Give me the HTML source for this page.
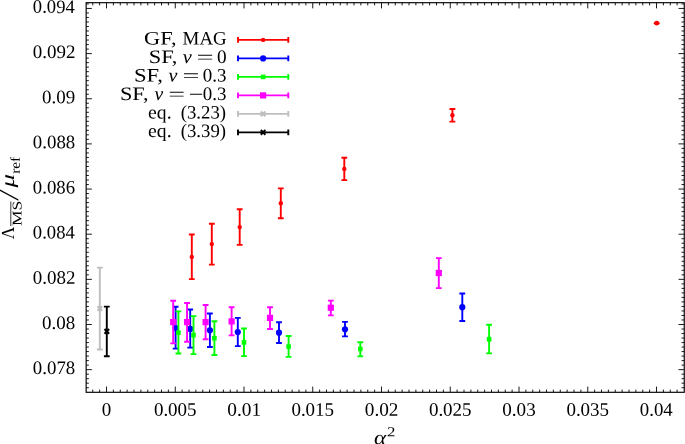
<!DOCTYPE html>
<html lang="en"><head><meta charset="utf-8"><title>plot</title>
<style>html,body{margin:0;padding:0;background:#fff;overflow:hidden}svg{display:block}text{font-family:"Liberation Serif","DejaVu Serif",serif;fill:#000}.i{font-style:italic}</style>
</head><body>
<svg width="685" height="444" viewBox="0 0 685 444">
<rect width="685" height="444" fill="#fff"/>
<path d="M92.75 392.30v-2.7M92.75 2.70v2.7M99.62 392.30v-2.7M99.62 2.70v2.7M106.50 392.30v-5.7M106.50 2.70v5.7M113.38 392.30v-2.7M113.38 2.70v2.7M120.25 392.30v-2.7M120.25 2.70v2.7M127.12 392.30v-2.7M127.12 2.70v2.7M134.00 392.30v-2.7M134.00 2.70v2.7M140.88 392.30v-2.7M140.88 2.70v2.7M147.75 392.30v-2.7M147.75 2.70v2.7M154.62 392.30v-2.7M154.62 2.70v2.7M161.50 392.30v-2.7M161.50 2.70v2.7M168.38 392.30v-2.7M168.38 2.70v2.7M175.25 392.30v-5.7M175.25 2.70v5.7M182.12 392.30v-2.7M182.12 2.70v2.7M189.00 392.30v-2.7M189.00 2.70v2.7M195.88 392.30v-2.7M195.88 2.70v2.7M202.75 392.30v-2.7M202.75 2.70v2.7M209.62 392.30v-2.7M209.62 2.70v2.7M216.50 392.30v-2.7M216.50 2.70v2.7M223.38 392.30v-2.7M223.38 2.70v2.7M230.25 392.30v-2.7M230.25 2.70v2.7M237.12 392.30v-2.7M237.12 2.70v2.7M244.00 392.30v-5.7M244.00 2.70v5.7M250.88 392.30v-2.7M250.88 2.70v2.7M257.75 392.30v-2.7M257.75 2.70v2.7M264.62 392.30v-2.7M264.62 2.70v2.7M271.50 392.30v-2.7M271.50 2.70v2.7M278.38 392.30v-2.7M278.38 2.70v2.7M285.25 392.30v-2.7M285.25 2.70v2.7M292.12 392.30v-2.7M292.12 2.70v2.7M299.00 392.30v-2.7M299.00 2.70v2.7M305.88 392.30v-2.7M305.88 2.70v2.7M312.75 392.30v-5.7M312.75 2.70v5.7M319.62 392.30v-2.7M319.62 2.70v2.7M326.50 392.30v-2.7M326.50 2.70v2.7M333.38 392.30v-2.7M333.38 2.70v2.7M340.25 392.30v-2.7M340.25 2.70v2.7M347.12 392.30v-2.7M347.12 2.70v2.7M354.00 392.30v-2.7M354.00 2.70v2.7M360.88 392.30v-2.7M360.88 2.70v2.7M367.75 392.30v-2.7M367.75 2.70v2.7M374.62 392.30v-2.7M374.62 2.70v2.7M381.50 392.30v-5.7M381.50 2.70v5.7M388.38 392.30v-2.7M388.38 2.70v2.7M395.25 392.30v-2.7M395.25 2.70v2.7M402.12 392.30v-2.7M402.12 2.70v2.7M409.00 392.30v-2.7M409.00 2.70v2.7M415.88 392.30v-2.7M415.88 2.70v2.7M422.75 392.30v-2.7M422.75 2.70v2.7M429.62 392.30v-2.7M429.62 2.70v2.7M436.50 392.30v-2.7M436.50 2.70v2.7M443.38 392.30v-2.7M443.38 2.70v2.7M450.25 392.30v-5.7M450.25 2.70v5.7M457.12 392.30v-2.7M457.12 2.70v2.7M464.00 392.30v-2.7M464.00 2.70v2.7M470.88 392.30v-2.7M470.88 2.70v2.7M477.75 392.30v-2.7M477.75 2.70v2.7M484.62 392.30v-2.7M484.62 2.70v2.7M491.50 392.30v-2.7M491.50 2.70v2.7M498.38 392.30v-2.7M498.38 2.70v2.7M505.25 392.30v-2.7M505.25 2.70v2.7M512.12 392.30v-2.7M512.12 2.70v2.7M519.00 392.30v-5.7M519.00 2.70v5.7M525.88 392.30v-2.7M525.88 2.70v2.7M532.75 392.30v-2.7M532.75 2.70v2.7M539.62 392.30v-2.7M539.62 2.70v2.7M546.50 392.30v-2.7M546.50 2.70v2.7M553.38 392.30v-2.7M553.38 2.70v2.7M560.25 392.30v-2.7M560.25 2.70v2.7M567.12 392.30v-2.7M567.12 2.70v2.7M574.00 392.30v-2.7M574.00 2.70v2.7M580.88 392.30v-2.7M580.88 2.70v2.7M587.75 392.30v-5.7M587.75 2.70v5.7M594.62 392.30v-2.7M594.62 2.70v2.7M601.50 392.30v-2.7M601.50 2.70v2.7M608.38 392.30v-2.7M608.38 2.70v2.7M615.25 392.30v-2.7M615.25 2.70v2.7M622.12 392.30v-2.7M622.12 2.70v2.7M629.00 392.30v-2.7M629.00 2.70v2.7M635.88 392.30v-2.7M635.88 2.70v2.7M642.75 392.30v-2.7M642.75 2.70v2.7M649.62 392.30v-2.7M649.62 2.70v2.7M656.50 392.30v-5.7M656.50 2.70v5.7M663.38 392.30v-2.7M663.38 2.70v2.7M670.25 392.30v-2.7M670.25 2.70v2.7M677.12 392.30v-2.7M677.12 2.70v2.7M86.15 387.71h2.7M684.25 387.71h-2.7M86.15 383.19h2.7M684.25 383.19h-2.7M86.15 378.68h2.7M684.25 378.68h-2.7M86.15 374.16h2.7M684.25 374.16h-2.7M86.15 369.65h5.7M684.25 369.65h-5.7M86.15 365.13h2.7M684.25 365.13h-2.7M86.15 360.62h2.7M684.25 360.62h-2.7M86.15 356.10h2.7M684.25 356.10h-2.7M86.15 351.59h2.7M684.25 351.59h-2.7M86.15 347.07h2.7M684.25 347.07h-2.7M86.15 342.56h2.7M684.25 342.56h-2.7M86.15 338.05h2.7M684.25 338.05h-2.7M86.15 333.53h2.7M684.25 333.53h-2.7M86.15 329.01h2.7M684.25 329.01h-2.7M86.15 324.50h5.7M684.25 324.50h-5.7M86.15 319.98h2.7M684.25 319.98h-2.7M86.15 315.47h2.7M684.25 315.47h-2.7M86.15 310.95h2.7M684.25 310.95h-2.7M86.15 306.44h2.7M684.25 306.44h-2.7M86.15 301.92h2.7M684.25 301.92h-2.7M86.15 297.41h2.7M684.25 297.41h-2.7M86.15 292.89h2.7M684.25 292.89h-2.7M86.15 288.38h2.7M684.25 288.38h-2.7M86.15 283.87h2.7M684.25 283.87h-2.7M86.15 279.35h5.7M684.25 279.35h-5.7M86.15 274.83h2.7M684.25 274.83h-2.7M86.15 270.32h2.7M684.25 270.32h-2.7M86.15 265.80h2.7M684.25 265.80h-2.7M86.15 261.29h2.7M684.25 261.29h-2.7M86.15 256.77h2.7M684.25 256.77h-2.7M86.15 252.26h2.7M684.25 252.26h-2.7M86.15 247.74h2.7M684.25 247.74h-2.7M86.15 243.23h2.7M684.25 243.23h-2.7M86.15 238.72h2.7M684.25 238.72h-2.7M86.15 234.20h5.7M684.25 234.20h-5.7M86.15 229.68h2.7M684.25 229.68h-2.7M86.15 225.17h2.7M684.25 225.17h-2.7M86.15 220.65h2.7M684.25 220.65h-2.7M86.15 216.14h2.7M684.25 216.14h-2.7M86.15 211.62h2.7M684.25 211.62h-2.7M86.15 207.11h2.7M684.25 207.11h-2.7M86.15 202.59h2.7M684.25 202.59h-2.7M86.15 198.08h2.7M684.25 198.08h-2.7M86.15 193.56h2.7M684.25 193.56h-2.7M86.15 189.05h5.7M684.25 189.05h-5.7M86.15 184.54h2.7M684.25 184.54h-2.7M86.15 180.02h2.7M684.25 180.02h-2.7M86.15 175.50h2.7M684.25 175.50h-2.7M86.15 170.99h2.7M684.25 170.99h-2.7M86.15 166.47h2.7M684.25 166.47h-2.7M86.15 161.96h2.7M684.25 161.96h-2.7M86.15 157.44h2.7M684.25 157.44h-2.7M86.15 152.93h2.7M684.25 152.93h-2.7M86.15 148.41h2.7M684.25 148.41h-2.7M86.15 143.90h5.7M684.25 143.90h-5.7M86.15 139.38h2.7M684.25 139.38h-2.7M86.15 134.87h2.7M684.25 134.87h-2.7M86.15 130.36h2.7M684.25 130.36h-2.7M86.15 125.84h2.7M684.25 125.84h-2.7M86.15 121.32h2.7M684.25 121.32h-2.7M86.15 116.81h2.7M684.25 116.81h-2.7M86.15 112.29h2.7M684.25 112.29h-2.7M86.15 107.78h2.7M684.25 107.78h-2.7M86.15 103.26h2.7M684.25 103.26h-2.7M86.15 98.75h5.7M684.25 98.75h-5.7M86.15 94.23h2.7M684.25 94.23h-2.7M86.15 89.72h2.7M684.25 89.72h-2.7M86.15 85.21h2.7M684.25 85.21h-2.7M86.15 80.69h2.7M684.25 80.69h-2.7M86.15 76.18h2.7M684.25 76.18h-2.7M86.15 71.66h2.7M684.25 71.66h-2.7M86.15 67.14h2.7M684.25 67.14h-2.7M86.15 62.63h2.7M684.25 62.63h-2.7M86.15 58.11h2.7M684.25 58.11h-2.7M86.15 53.60h5.7M684.25 53.60h-5.7M86.15 49.08h2.7M684.25 49.08h-2.7M86.15 44.57h2.7M684.25 44.57h-2.7M86.15 40.05h2.7M684.25 40.05h-2.7M86.15 35.54h2.7M684.25 35.54h-2.7M86.15 31.03h2.7M684.25 31.03h-2.7M86.15 26.51h2.7M684.25 26.51h-2.7M86.15 21.99h2.7M684.25 21.99h-2.7M86.15 17.48h2.7M684.25 17.48h-2.7M86.15 12.96h2.7M684.25 12.96h-2.7M86.15 8.45h5.7M684.25 8.45h-5.7M86.15 3.93h2.7M684.25 3.93h-2.7" stroke="#000" stroke-width="0.9" fill="none"/>
<rect x="86.15" y="2.7" width="598.1" height="389.6" fill="none" stroke="#000" stroke-width="1.15"/>
<text transform="rotate(0.05 32.9 374.0)" x="32.86" y="374.05" font-size="19.0" textLength="42.39" lengthAdjust="spacingAndGlyphs">0.078</text>
<text transform="rotate(0.05 42.1 328.9)" x="42.05" y="328.90" font-size="19.0" textLength="33.20" lengthAdjust="spacingAndGlyphs">0.08</text>
<text transform="rotate(0.05 32.9 283.7)" x="32.85" y="283.75" font-size="19.0" textLength="42.65" lengthAdjust="spacingAndGlyphs">0.082</text>
<text transform="rotate(0.05 32.9 238.6)" x="32.87" y="238.60" font-size="19.0" textLength="41.88" lengthAdjust="spacingAndGlyphs">0.084</text>
<text transform="rotate(0.05 32.9 193.5)" x="32.86" y="193.45" font-size="19.0" textLength="42.13" lengthAdjust="spacingAndGlyphs">0.086</text>
<text transform="rotate(0.05 32.9 148.3)" x="32.86" y="148.30" font-size="19.0" textLength="42.39" lengthAdjust="spacingAndGlyphs">0.088</text>
<text transform="rotate(0.05 42.1 103.2)" x="42.05" y="103.15" font-size="19.0" textLength="33.20" lengthAdjust="spacingAndGlyphs">0.09</text>
<text transform="rotate(0.05 32.9 58.0)" x="32.85" y="58.00" font-size="19.0" textLength="42.65" lengthAdjust="spacingAndGlyphs">0.092</text>
<text transform="rotate(0.05 32.9 12.8)" x="32.87" y="12.85" font-size="19.0" textLength="41.88" lengthAdjust="spacingAndGlyphs">0.094</text>
<text transform="rotate(0.05 101.8 415.8)" x="101.75" y="415.75" font-size="19.0" textLength="9.50" lengthAdjust="spacingAndGlyphs">0</text>
<text transform="rotate(0.05 153.9 415.8)" x="153.90" y="415.75" font-size="19.0" textLength="42.70" lengthAdjust="spacingAndGlyphs">0.005</text>
<text transform="rotate(0.05 227.3 415.8)" x="227.29" y="415.75" font-size="19.0" textLength="33.81" lengthAdjust="spacingAndGlyphs">0.01</text>
<text transform="rotate(0.05 291.4 415.8)" x="291.40" y="415.75" font-size="19.0" textLength="42.70" lengthAdjust="spacingAndGlyphs">0.015</text>
<text transform="rotate(0.05 364.8 415.8)" x="364.79" y="415.75" font-size="19.0" textLength="33.67" lengthAdjust="spacingAndGlyphs">0.02</text>
<text transform="rotate(0.05 428.9 415.8)" x="428.90" y="415.75" font-size="19.0" textLength="42.70" lengthAdjust="spacingAndGlyphs">0.025</text>
<text transform="rotate(0.05 502.3 415.8)" x="502.30" y="415.75" font-size="19.0" textLength="33.41" lengthAdjust="spacingAndGlyphs">0.03</text>
<text transform="rotate(0.05 566.4 415.8)" x="566.40" y="415.75" font-size="19.0" textLength="42.70" lengthAdjust="spacingAndGlyphs">0.035</text>
<text transform="rotate(0.05 639.8 415.8)" x="639.81" y="415.75" font-size="19.0" textLength="32.89" lengthAdjust="spacingAndGlyphs">0.04</text>
<text transform="rotate(0.05 374.0 444.3)" x="373.98" y="444.30" font-size="20" class="i" textLength="12.09" lengthAdjust="spacingAndGlyphs">α</text>
<text transform="rotate(0.05 387.1 436.3)" x="387.13" y="436.30" font-size="13.6" textLength="8.40" lengthAdjust="spacingAndGlyphs">2</text>
<g transform="translate(14 0) rotate(-90)">
<text transform="rotate(0.05 -239.3 0.0)" x="-239.32" y="0.00" font-size="18.4" textLength="12.52" lengthAdjust="spacingAndGlyphs">Λ</text>
<text transform="rotate(0.05 -226.0 7.5)" x="-225.99" y="7.50" font-size="13.4" textLength="25.31" lengthAdjust="spacingAndGlyphs">MS</text>
<path d="M-226 -3.2H-201.5" stroke="#000" stroke-width="0.8" fill="none"/>
<text transform="translate(-200.7 4.2) skewX(-11.3)" x="0" y="0" font-size="30">/</text>
<text transform="rotate(0.05 -187.4 0.0)" x="-187.40" y="0.00" font-size="19" class="i" textLength="13.55" lengthAdjust="spacingAndGlyphs">μ</text>
<text transform="rotate(0.05 -173.9 5.8)" x="-173.89" y="5.80" font-size="13.4" textLength="17.09" lengthAdjust="spacingAndGlyphs">ref</text>
</g>
<text transform="rotate(0.05 144.1 44.5)" x="144.12" y="44.50" font-size="19.0" textLength="32.45" lengthAdjust="spacingAndGlyphs">GF,</text>
<text transform="rotate(0.05 182.6 44.5)" x="182.60" y="44.50" font-size="19.0" textLength="44.09" lengthAdjust="spacingAndGlyphs">MAG</text>
<path d="M238 39.90H288.3M238 37.00v5.8M288.3 37.00v5.8" stroke="#f00" stroke-width="1.9" fill="none"/>
<circle cx="263.10" cy="39.90" r="2.2" fill="#f00"/>
<text transform="rotate(0.05 148.7 63.0)" x="148.73" y="63.00" font-size="19.0" textLength="28.70" lengthAdjust="spacingAndGlyphs">SF,</text>
<text transform="rotate(0.05 182.8 63.0)" x="182.83" y="63.00" font-size="19.0" class="i" textLength="9.00" lengthAdjust="spacingAndGlyphs">ν</text>
<text transform="rotate(0.05 196.4 63.6)" x="196.40" y="63.60" font-size="19.0" textLength="17.15" lengthAdjust="spacingAndGlyphs">=</text>
<text transform="rotate(0.05 217.1 63.0)" x="217.14" y="63.00" font-size="19.0" textLength="9.62" lengthAdjust="spacingAndGlyphs">0</text>
<path d="M238 58.40H288.3M238 55.50v5.8M288.3 55.50v5.8" stroke="#00f" stroke-width="1.9" fill="none"/>
<circle cx="263.10" cy="58.40" r="3.1" fill="#00f"/>
<text transform="rotate(0.05 134.0 81.5)" x="134.01" y="81.50" font-size="19.0" textLength="29.03" lengthAdjust="spacingAndGlyphs">SF,</text>
<text transform="rotate(0.05 168.4 81.5)" x="168.44" y="81.50" font-size="19.0" class="i" textLength="8.90" lengthAdjust="spacingAndGlyphs">ν</text>
<text transform="rotate(0.05 182.4 82.1)" x="182.42" y="82.10" font-size="19.0" textLength="16.91" lengthAdjust="spacingAndGlyphs">=</text>
<text transform="rotate(0.05 202.9 81.5)" x="202.85" y="81.50" font-size="19.0" textLength="23.70" lengthAdjust="spacingAndGlyphs">0.3</text>
<path d="M238 76.90H288.3M238 74.00v5.8M288.3 74.00v5.8" stroke="#0f0" stroke-width="1.9" fill="none"/>
<rect x="260.80" y="74.60" width="4.6" height="4.6" fill="#0f0"/>
<text transform="rotate(0.05 119.9 100.0)" x="119.93" y="100.00" font-size="19.0" textLength="28.59" lengthAdjust="spacingAndGlyphs">SF,</text>
<text transform="rotate(0.05 154.5 100.0)" x="154.54" y="100.00" font-size="19.0" class="i" textLength="8.69" lengthAdjust="spacingAndGlyphs">ν</text>
<text transform="rotate(0.05 168.2 100.6)" x="168.23" y="100.60" font-size="19.0" textLength="16.79" lengthAdjust="spacingAndGlyphs">=</text>
<text transform="rotate(0.05 188.7 100.6)" x="188.71" y="100.60" font-size="19.0" textLength="14.61" lengthAdjust="spacingAndGlyphs">−</text>
<text transform="rotate(0.05 202.9 100.0)" x="202.85" y="100.00" font-size="19.0" textLength="23.70" lengthAdjust="spacingAndGlyphs">0.3</text>
<path d="M238 95.40H288.3M238 92.50v5.8M288.3 92.50v5.8" stroke="#f0f" stroke-width="1.9" fill="none"/>
<rect x="260.00" y="92.30" width="6.2" height="6.2" fill="#f0f"/>
<text transform="rotate(0.05 148.1 118.5)" x="148.12" y="118.50" font-size="19.0" textLength="23.51" lengthAdjust="spacingAndGlyphs">eq.</text>
<text transform="rotate(0.05 180.7 118.5)" x="180.74" y="118.50" font-size="19.0" textLength="45.34" lengthAdjust="spacingAndGlyphs">(3.23)</text>
<path d="M238 113.90H288.3M238 111.00v5.8M288.3 111.00v5.8" stroke="#bebebe" stroke-width="1.9" fill="none"/>
<path d="M260.80 111.60l4.6 4.6M260.80 116.20l4.6 -4.6" stroke="#bebebe" stroke-width="2.1" fill="none"/>
<text transform="rotate(0.05 148.1 137.0)" x="148.12" y="137.00" font-size="19.0" textLength="23.51" lengthAdjust="spacingAndGlyphs">eq.</text>
<text transform="rotate(0.05 180.7 137.0)" x="180.74" y="137.00" font-size="19.0" textLength="45.34" lengthAdjust="spacingAndGlyphs">(3.39)</text>
<path d="M238 132.40H288.3M238 129.50v5.8M288.3 129.50v5.8" stroke="#000" stroke-width="1.9" fill="none"/>
<path d="M260.80 130.10l4.6 4.6M260.80 134.70l4.6 -4.6" stroke="#000" stroke-width="2.1" fill="none"/>
<path d="M191.80 234.50V279.10M188.90 234.50h5.8M188.90 279.10h5.8M211.80 223.80V264.60M208.90 223.80h5.8M208.90 264.60h5.8M239.70 209.30V244.90M236.80 209.30h5.8M236.80 244.90h5.8M280.80 188.40V218.20M277.90 188.40h5.8M277.90 218.20h5.8M344.30 157.80V180.10M341.40 157.80h5.8M341.40 180.10h5.8M452.40 109.00V121.60M449.50 109.00h5.8M449.50 121.60h5.8" stroke="#f00" stroke-width="1.9" fill="none"/>
<circle cx="191.80" cy="256.90" r="2.2" fill="#f00"/>
<circle cx="211.80" cy="244.10" r="2.2" fill="#f00"/>
<circle cx="239.70" cy="227.10" r="2.2" fill="#f00"/>
<circle cx="280.80" cy="203.30" r="2.2" fill="#f00"/>
<circle cx="344.30" cy="168.90" r="2.2" fill="#f00"/>
<circle cx="452.40" cy="115.20" r="2.2" fill="#f00"/>
<path d="M653.4 23.2Q655 20.8 656.7 20.8Q658.4 20.8 660 23.2Q658.4 25.6 656.7 25.6Q655 25.6 653.4 23.2Z" fill="#f00"/>
<path d="M175.60 306.70V348.60M172.70 306.70h5.8M172.70 348.60h5.8M190.20 309.50V347.60M187.30 309.50h5.8M187.30 347.60h5.8M209.90 313.50V347.00M207.00 313.50h5.8M207.00 347.00h5.8M237.80 317.90V346.10M234.90 317.90h5.8M234.90 346.10h5.8M279.00 322.20V343.00M276.10 322.20h5.8M276.10 343.00h5.8M345.00 321.85V336.40M342.10 321.85h5.8M342.10 336.40h5.8M462.30 293.50V321.00M459.40 293.50h5.8M459.40 321.00h5.8" stroke="#00f" stroke-width="1.9" fill="none"/>
<circle cx="175.60" cy="328.10" r="3.1" fill="#00f"/>
<circle cx="190.20" cy="328.90" r="3.1" fill="#00f"/>
<circle cx="209.90" cy="330.30" r="3.1" fill="#00f"/>
<circle cx="237.80" cy="332.10" r="3.1" fill="#00f"/>
<circle cx="279.00" cy="332.70" r="3.1" fill="#00f"/>
<circle cx="345.00" cy="329.30" r="3.1" fill="#00f"/>
<circle cx="462.30" cy="307.20" r="3.1" fill="#00f"/>
<path d="M178.40 311.40V353.50M175.50 311.40h5.8M175.50 353.50h5.8M193.50 316.10V354.10M190.60 316.10h5.8M190.60 354.10h5.8M214.40 321.30V355.00M211.50 321.30h5.8M211.50 355.00h5.8M244.00 328.50V356.10M241.10 328.50h5.8M241.10 356.10h5.8M288.60 336.00V356.90M285.70 336.00h5.8M285.70 356.90h5.8M360.30 342.20V356.40M357.40 342.20h5.8M357.40 356.40h5.8M489.10 324.80V353.40M486.20 324.80h5.8M486.20 353.40h5.8" stroke="#0f0" stroke-width="1.9" fill="none"/>
<rect x="176.10" y="330.40" width="4.6" height="4.6" fill="#0f0"/>
<rect x="191.20" y="332.80" width="4.6" height="4.6" fill="#0f0"/>
<rect x="212.10" y="335.90" width="4.6" height="4.6" fill="#0f0"/>
<rect x="241.70" y="340.10" width="4.6" height="4.6" fill="#0f0"/>
<rect x="286.30" y="344.30" width="4.6" height="4.6" fill="#0f0"/>
<rect x="358.00" y="346.70" width="4.6" height="4.6" fill="#0f0"/>
<rect x="486.80" y="336.90" width="4.6" height="4.6" fill="#0f0"/>
<path d="M173.20 300.80V343.40M170.30 300.80h5.8M170.30 343.40h5.8M187.05 303.00V341.80M184.15 303.00h5.8M184.15 341.80h5.8M205.60 305.00V339.20M202.70 305.00h5.8M202.70 339.20h5.8M231.60 307.20V335.40M228.70 307.20h5.8M228.70 335.40h5.8M270.00 307.20V328.95M267.10 307.20h5.8M267.10 328.95h5.8M330.80 300.60V315.40M327.90 300.60h5.8M327.90 315.40h5.8M438.80 258.10V288.10M435.90 258.10h5.8M435.90 288.10h5.8" stroke="#f0f" stroke-width="1.9" fill="none"/>
<rect x="170.10" y="319.00" width="6.2" height="6.2" fill="#f0f"/>
<rect x="183.95" y="319.00" width="6.2" height="6.2" fill="#f0f"/>
<rect x="202.50" y="319.00" width="6.2" height="6.2" fill="#f0f"/>
<rect x="228.50" y="318.30" width="6.2" height="6.2" fill="#f0f"/>
<rect x="266.90" y="314.80" width="6.2" height="6.2" fill="#f0f"/>
<rect x="327.70" y="304.60" width="6.2" height="6.2" fill="#f0f"/>
<rect x="435.70" y="269.90" width="6.2" height="6.2" fill="#f0f"/>
<path d="M99.80 267.60V349.50M96.90 267.60h5.8M96.90 349.50h5.8" stroke="#bebebe" stroke-width="1.9" fill="none"/>
<path d="M97.50 306.20l4.6 4.6M97.50 310.80l4.6 -4.6" stroke="#bebebe" stroke-width="2.1" fill="none"/>
<path d="M106.80 306.60V356.20M103.90 306.60h5.8M103.90 356.20h5.8" stroke="#000" stroke-width="1.9" fill="none"/>
<path d="M104.50 329.10l4.6 4.6M104.50 333.70l4.6 -4.6" stroke="#000" stroke-width="2.1" fill="none"/>
</svg></body></html>
